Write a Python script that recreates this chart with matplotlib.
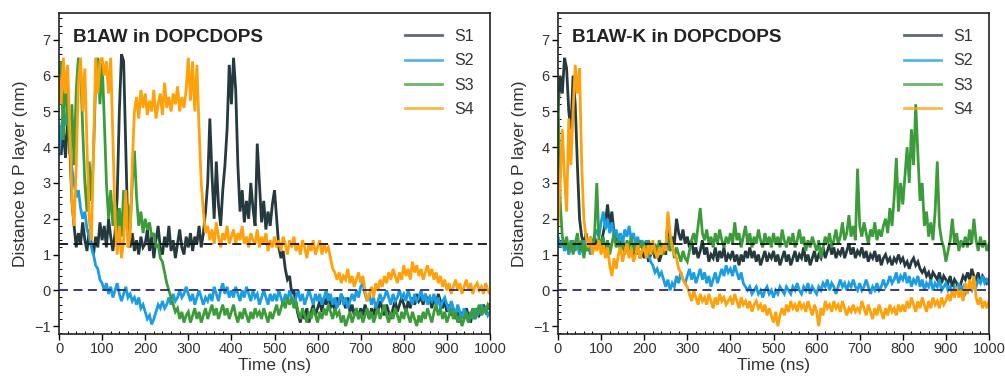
import numpy as np
import matplotlib
matplotlib.use("Agg")
import matplotlib.pyplot as plt
from matplotlib.ticker import MultipleLocator

plt.rcParams['font.family'] = ['Liberation Sans', 'DejaVu Sans']

series_labels = ["S1", "S2", "S3", "S4"]
colors = ["#243a3e", "#1b9de2", "#3c9c3a", "#ffa10a"]
titles = ["B1AW in DOPCDOPS", "B1AW-K in DOPCDOPS"]
x_ticks = [0, 100, 200, 300, 400, 500, 600, 700, 800, 900, 1000]
y_ticks = [-1, 0, 1, 2, 3, 4, 5, 6, 7]
ref_upper = 1.3   # black dashed reference
ref_lower = 0.0   # navy dashed reference

# ---- Left panel: B1AW (values every 5 ns, 0..1000 ns) ----
left_s1 = [
    4.2, 3.8, 4.5, 3.7, 4.8, 4.0, 2.5, 1.8, 1.2, 1.6, 1.3, 1.9, 1.4, 1.1, 1.7, 1.3, 1.0, 1.5, 1.2, 1.9,
    1.4, 1.8, 1.2, 2.0, 1.5, 1.1, 1.6, 2.6, 5.0, 6.6, 6.4, 4.0, 1.5, 1.2, 1.6, 1.1, 1.4, 1.0, 1.5, 1.2,
    1.3, 1.7, 1.1, 1.5, 0.9, 1.4, 1.8, 1.2, 1.0, 1.5, 1.2, 1.8, 1.1, 1.4, 0.9, 1.3, 1.7, 1.2, 1.0, 1.5,
    1.2, 1.6, 1.1, 1.5, 1.3, 1.8, 1.2, 1.6, 2.2, 3.0, 4.8, 3.2, 2.0, 3.6, 2.4, 1.8, 2.8, 3.5, 4.5, 6.3,
    5.2, 6.5, 5.6, 3.5, 2.2, 2.8, 1.9, 2.5, 2.0, 3.0, 2.3, 1.8, 4.1, 3.0, 1.9, 2.5, 1.7, 2.2, 1.8, 2.4,
    2.8, 2.0, 1.2, 0.9, 1.1, 0.6, 0.3, 0.4, -0.1, 0.0, -0.4, -0.7, -0.9, -0.6, -0.8, -0.5, -0.9, -0.6, -0.4, -0.7,
    -0.5, -0.3, -0.6, -0.2, -0.4, -0.1, -0.5, -0.3, -0.6, -0.2, -0.4, -0.1, -0.3, -0.5, -0.2, -0.6, -0.4, -0.7, -0.5, -0.8,
    -0.5, -0.7, -0.4, -0.6, -0.8, -0.5, -0.7, -0.4, -0.6, -0.3, -0.5, -0.7, -0.4, -0.6, -0.8, -0.5, -0.3, -0.6, -0.4, -0.2,
    -0.4, -0.6, -0.3, -0.5, -0.2, -0.4, -0.1, -0.3, -0.2, -0.4, -0.1, -0.3, -0.2, -0.5, -0.2, -0.4, -0.1, -0.3, -0.5, -0.3,
    -0.6, -0.4, -0.7, -0.5, -0.8, -0.6, -0.9, -0.6, -0.8, -0.5, -0.7, -0.9, -0.6, -0.8, -0.5, -0.7, -0.6, -0.4, -0.6, -0.5,
    -0.4,
]
left_s2 = [
    3.8, 4.5, 5.0, 4.6, 5.1, 4.2, 3.4, 3.0, 2.6, 2.8, 2.3, 2.0, 2.2, 1.7, 1.5, 1.2, 1.0, 0.7, 0.6, 0.3,
    0.2, 0.0, 0.2, -0.1, 0.1, -0.2, 0.0, 0.2, -0.1, -0.3, -0.1, 0.1, -0.2, -0.1, -0.3, -0.2, -0.4, -0.2, -0.5, -0.4,
    -0.6, -0.8, -0.7, -0.95, -0.8, -0.6, -0.4, -0.5, -0.3, -0.5, -0.4, -0.2, -0.4, -0.1, -0.3, -0.2, 0.0, -0.2, -0.1, 0.1,
    -0.1, -0.3, -0.1, -0.4, -0.2, 0.0, -0.2, -0.4, -0.2, -0.3, -0.1, -0.3, 0.1, -0.1, -0.3, 0.0, 0.2, -0.1, 0.1, -0.2,
    0.0, -0.2, 0.1, -0.1, -0.3, 0.0, -0.2, 0.1, -0.1, -0.3, 0.0, -0.2, -0.1, -0.4, -0.2, 0.0, -0.2, -0.4, -0.1, -0.3,
    -0.1, -0.3, 0.0, -0.2, -0.4, -0.1, -0.3, 0.0, -0.2, -0.4, -0.2, 0.0, -0.3, -0.1, -0.4, -0.2, 0.0, -0.2, -0.4, -0.1,
    -0.3, -0.1, -0.4, -0.2, 0.0, -0.3, -0.1, -0.4, -0.2, -0.5, -0.3, -0.1, -0.4, -0.2, -0.5, -0.3, -0.1, -0.3, 0.0, -0.2,
    0.1, 0.2, -0.1, -0.3, -0.1, -0.4, -0.2, -0.5, -0.3, -0.1, -0.3, -0.2, 0.0, -0.2, -0.4, -0.1, -0.3, -0.2, 0.0, -0.2,
    -0.1, -0.3, 0.0, -0.2, -0.4, -0.1, -0.3, -0.2, 0.0, -0.3, -0.1, -0.4, -0.2, -0.3, -0.1, -0.4, -0.2, -0.5, -0.3, -0.2,
    -0.4, -0.6, -0.3, -0.5, -0.7, -0.4, -0.6, -0.8, -0.5, -0.7, -0.9, -0.6, -0.8, -0.5, -0.7, -0.6, -0.4, -0.6, -0.5, -0.7,
    -0.6,
]
left_s3 = [
    5.5, 6.4, 4.2, 6.0, 5.0, 3.8, 5.2, 3.5, 5.6, 6.5, 6.2, 4.5, 3.0, 2.2, 3.6, 2.5, 3.8, 5.8, 6.5, 5.2,
    6.4, 4.8, 3.0, 2.0, 2.8, 1.8, 2.5, 1.6, 2.3, 1.5, 2.8, 1.9, 2.4, 1.7, 3.0, 3.9, 2.6, 1.8, 2.2, 1.6,
    2.0, 1.7, 1.9, 1.5, 1.6, 1.2, 1.3, 0.9, 0.8, 0.5, 0.2, 0.0, -0.2, -0.4, -0.6, -0.5, -0.8, -0.6, -0.9, -0.7,
    -0.6, -0.9, -0.7, -0.5, -0.8, -0.6, -0.9, -0.7, -0.5, -0.8, -0.6, -0.4, -0.7, -0.5, -0.8, -0.6, -0.4, -0.7, -0.5, -0.8,
    -0.6, -0.4, -0.7, -0.9, -0.6, -0.8, -0.5, -0.7, -0.9, -0.6, -0.8, -0.5, -0.7, -0.6, -0.8, -0.5, -0.7, -0.9, -0.6, -0.8,
    -0.6, -0.4, -0.7, -0.5, -0.3, -0.5, -0.2, -0.4, -0.2, -0.5, -0.3, -0.6, -0.8, -0.5, -0.7, -0.9, -0.6, -0.8, -0.5, -0.7,
    -0.9, -0.6, -0.8, -0.5, -0.7, -0.4, -0.6, -0.8, -0.5, -0.7, -0.6, -0.9, -0.7, -1.0, -0.8, -0.6, -0.9, -0.7, -0.5, -0.8,
    -0.6, -0.9, -0.7, -0.5, -0.8, -0.6, -0.9, -0.7, -0.5, -0.8, -0.6, -0.4, -0.7, -0.9, -0.6, -0.8, -0.5, -0.7, -0.9, -0.6,
    -0.8, -0.5, -0.7, -0.9, -0.6, -0.8, -1.0, -0.7, -0.9, -0.6, -0.8, -0.5, -0.7, -0.9, -0.6, -0.4, -0.7, -0.5, -0.8, -0.6,
    -0.9, -0.7, -0.5, -0.8, -0.6, -0.9, -0.7, -1.0, -0.8, -0.6, -0.9, -0.7, -0.5, -0.8, -0.6, -0.4, -0.7, -0.5, -0.6, -0.4,
    -0.5,
]
left_s4 = [
    6.0, 5.2, 6.5, 5.5, 6.3, 4.5, 2.5, 1.8, 3.5, 5.8, 6.5, 5.0, 6.2, 4.0, 2.0, 1.4, 3.8, 6.5, 5.5, 6.4,
    6.5, 6.0, 6.4, 5.5, 6.5, 4.2, 2.0, 1.0, 1.8, 0.9, 1.4, 2.8, 1.2, 1.5, 3.5, 5.0, 5.4, 4.8, 5.6, 5.1,
    5.5, 4.9, 5.3, 5.0, 5.6, 4.8, 5.2, 5.5, 4.9, 5.8, 5.1, 5.4, 5.0, 5.5, 5.2, 5.7, 5.0, 5.4, 5.1, 5.6,
    6.5, 5.3, 6.4, 5.0, 6.3, 4.5, 3.0, 2.2, 1.6, 1.8, 1.4, 1.7, 1.3, 1.9, 1.5, 1.2, 1.6, 1.4, 1.8, 1.3,
    1.5, 1.7, 1.3, 1.6, 1.4, 1.8, 1.3, 1.5, 1.2, 1.6, 1.4, 1.3, 1.7, 1.2, 1.5, 1.3, 1.6, 1.1, 1.4, 1.2,
    1.5, 1.2, 1.4, 1.1, 1.5, 1.3, 1.0, 1.4, 1.2, 1.5, 1.1, 1.3, 1.0, 1.4, 1.2, 0.9, 1.3, 1.1, 1.4, 1.0,
    1.2, 1.4, 1.0, 1.3, 1.1, 1.2, 0.9, 0.6, 0.5, 0.3, 0.5, 0.2, 0.4, 0.3, 0.6, 0.2, 0.4, 0.1, 0.3, 0.5,
    0.2, 0.4, 0.0, -0.3, -0.1, 0.1, -0.2, 0.2, 0.0, 0.3, 0.1, 0.4, 0.2, 0.5, 0.3, 0.6, 0.4, 0.2, 0.5, 0.3,
    0.7, 0.4, 0.6, 0.3, 0.8, 0.5, 0.7, 0.4, 0.6, 0.3, 0.5, 0.7, 0.4, 0.6, 0.3, 0.5, 0.2, 0.4, 0.1, 0.3,
    0.0, 0.2, -0.1, 0.1, 0.3, 0.0, 0.2, -0.1, 0.1, 0.3, 0.0, 0.2, -0.1, 0.1, 0.2, 0.0, 0.1, -0.1, 0.2, 0.0,
    -0.1,
]

# ---- Right panel: B1AW-K (values every 5 ns, 0..1000 ns) ----
right_s1 = [
    5.0, 6.0, 5.5, 6.5, 6.2, 5.0, 4.5, 6.0, 5.2, 3.5, 2.0, 1.5, 1.3, 1.6, 1.2, 1.4, 1.1, 1.5, 1.2, 1.4,
    1.3, 1.6, 1.9, 2.4, 1.8, 2.2, 1.6, 1.3, 1.5, 1.2, 1.4, 1.1, 1.3, 1.0, 1.2, 0.9, 1.1, 1.3, 0.9, 1.1,
    0.9, 1.2, 0.8, 1.0, 1.2, 0.9, 1.1, 0.8, 1.0, 1.2, 1.0, 2.0, 1.1, 1.5, 1.3, 2.0, 1.6, 1.4, 1.7, 1.3,
    1.5, 1.2, 1.4, 1.0, 1.2, 0.9, 1.1, 1.4, 1.0, 1.2, 0.8, 1.0, 0.9, 1.2, 0.8, 1.1, 0.9, 1.2, 0.8, 1.0,
    0.9, 1.1, 0.8, 1.0, 0.7, 1.0, 0.8, 1.1, 0.9, 1.2, 0.9, 1.1, 0.8, 1.0, 0.7, 0.9, 1.1, 0.8, 1.0, 0.9,
    1.1, 0.8, 1.0, 0.7, 0.9, 1.1, 0.8, 1.0, 0.7, 0.9, 1.1, 0.8, 1.0, 0.9, 1.2, 0.8, 1.0, 0.7, 0.9, 1.1,
    0.8, 1.0, 0.9, 1.2, 0.9, 1.1, 1.3, 1.0, 1.2, 0.9, 1.1, 1.0, 1.2, 0.9, 1.1, 1.3, 1.0, 1.2, 0.9, 1.1,
    1.0, 1.2, 0.9, 1.1, 0.8, 1.0, 0.9, 1.1, 0.8, 1.0, 0.7, 0.9, 1.0, 0.8, 0.9, 0.7, 0.9, 0.8, 1.0, 0.8,
    0.9, 0.7, 0.8, 0.6, 0.8, 0.9, 0.7, 0.8, 0.6, 0.5, 0.6, 0.4, 0.5, 0.3, 0.5, 0.4, 0.3, 0.5, 0.2, 0.4,
    0.3, 0.2, 0.4, 0.1, 0.3, 0.2, 0.0, 0.2, 0.4, 0.3, 0.5, 0.3, 0.6, 0.4, 0.3, 0.5, 0.2, 0.4, 0.3, 0.2,
    0.3,
]
right_s2 = [
    1.5, 1.2, 1.4, 1.1, 1.3, 1.0, 1.2, 1.4, 1.1, 1.3, 1.0, 1.2, 1.4, 1.1, 1.3, 1.0, 1.2, 1.5, 1.7, 1.5,
    1.9, 2.2, 1.7, 2.0, 1.6, 1.9, 1.5, 1.7, 1.4, 1.6, 1.3, 1.7, 1.5, 1.8, 1.4, 1.6, 1.3, 1.5, 1.2, 1.4,
    1.2, 1.4, 1.0, 0.8, 0.7, 0.5, 0.6, 0.4, 0.5, 0.3, 0.1, 0.3, 0.0, 0.2, 0.1, 0.4, 0.2, 0.5, 0.3, 0.2,
    0.4, 0.6, 0.3, 0.5, 0.2, 0.4, 0.6, 0.3, 0.5, 0.2, 0.4, 0.1, 0.3, 0.5, 0.2, 0.4, 0.6, 0.4, 0.7, 0.5,
    0.6, 0.4, 0.7, 0.5, 0.3, 0.5, 0.2, 0.1, 0.0, 0.1, -0.1, 0.0, 0.1, -0.1, 0.0, -0.2, 0.0, 0.1, -0.1, 0.0,
    -0.2, 0.0, -0.1, 0.1, 0.0, -0.1, 0.1, 0.0, -0.1, 0.1, 0.0, 0.2, 0.0, -0.1, 0.1, 0.0, 0.2, -0.1, 0.1, 0.0,
    -0.1, 0.1, 0.0, 0.2, 0.1, 0.3, 0.0, 0.2, 0.1, -0.1, 0.1, 0.3, 0.1, 0.2, 0.0, 0.2, 0.1, 0.3, 0.1, 0.0,
    0.2, 0.0, 0.1, 0.3, 0.1, -0.1, 0.1, 0.0, 0.2, 0.0, 0.1, 0.3, 0.1, 0.2, 0.4, 0.2, 0.3, 0.5, 0.2, 0.4,
    0.3, 0.5, 0.2, 0.4, 0.1, 0.3, 0.2, 0.4, 0.1, 0.3, 0.0, 0.2, 0.1, 0.3, 0.0, 0.2, 0.1, 0.3, 0.0, 0.1,
    0.2, 0.0, 0.1, -0.1, 0.1, 0.0, 0.2, 0.0, 0.1, -0.1, 0.0, 0.1, 0.0, 0.2, 0.1, 0.3, 0.2, 0.4, 0.2, 0.3,
    0.2,
]
right_s3 = [
    5.5, 2.5, 1.5, 1.2, 1.5, 1.1, 1.4, 1.0, 1.3, 1.6, 1.1, 1.4, 0.9, 1.3, 1.1, 1.5, 1.2, 1.6, 3.0, 1.4,
    1.2, 1.5, 1.1, 1.4, 1.0, 1.3, 1.6, 1.2, 1.4, 1.1, 1.3, 1.0, 1.4, 1.2, 1.5, 1.1, 1.3, 1.0, 1.4, 1.2,
    1.3, 1.1, 1.4, 1.2, 1.0, 1.3, 1.1, 1.4, 1.2, 1.0, 1.3, 1.5, 1.1, 1.3, 0.9, 1.2, 1.0, 0.8, 1.1, 0.9,
    0.8, 1.1, 1.4, 1.6, 1.3, 1.8, 2.3, 1.6, 1.4, 1.7, 1.3, 1.5, 1.2, 1.6, 1.3, 1.7, 1.4, 1.2, 1.5, 1.3,
    1.6, 1.3, 1.9, 1.4, 1.6, 1.2, 1.5, 1.8, 1.3, 1.6, 1.2, 1.5, 1.3, 1.7, 1.4, 1.2, 1.6, 1.3, 1.5, 1.2,
    1.6, 1.3, 1.5, 1.2, 1.7, 1.4, 1.2, 1.5, 1.3, 1.6, 1.2, 1.4, 1.7, 1.3, 1.5, 1.1, 1.4, 1.2, 1.5, 1.3,
    1.1, 1.4, 0.9, 1.2, 1.5, 1.3, 1.6, 1.2, 1.4, 1.7, 1.3, 1.5, 1.9, 1.4, 1.6, 2.1, 1.5, 1.8, 1.4, 3.4,
    1.8, 1.5, 1.9, 1.6, 1.3, 1.7, 1.5, 1.9, 1.4, 1.7, 1.5, 1.8, 2.0, 1.6, 2.3, 1.8, 2.6, 3.7, 2.2, 3.0,
    2.4, 3.2, 4.0, 3.0, 4.5, 3.5, 5.2, 3.8, 2.5, 3.0, 1.8, 2.2, 1.5, 1.9, 1.4, 2.2, 3.6, 1.8, 1.4, 1.2,
    0.8, 1.1, 1.4, 2.0, 1.3, 1.6, 1.1, 1.4, 1.2, 1.5, 1.2, 1.7, 1.3, 2.0, 1.4, 1.1, 1.5, 1.2, 1.4, 1.1,
    1.3,
]
right_s4 = [
    1.8, 3.0, 4.5, 3.2, 2.2, 4.8, 3.5, 5.0, 6.3, 5.5, 6.2, 3.5, 2.0, 1.5, 1.2, 1.5, 1.0, 1.3, 1.1, 1.4,
    1.0, 1.3, 0.9, 1.2, 0.7, 0.4, 0.9, 0.6, 1.0, 1.2, 0.8, 1.1, 1.3, 0.9, 1.2, 0.8, 1.0, 1.3, 0.9, 1.1,
    1.2, 0.9, 1.3, 1.0, 1.4, 1.1, 0.9, 1.2, 1.0, 1.3, 1.1, 2.2, 1.6, 1.2, 1.0, 0.9, 0.6, 0.5, 0.3, 0.2,
    0.1, -0.1, -0.3, 0.0, -0.2, -0.4, -0.1, -0.3, -0.2, -0.4, -0.1, -0.3, -0.5, -0.2, -0.4, -0.1, -0.3, -0.2, -0.4, -0.3,
    -0.2, -0.4, -0.1, -0.3, -0.5, -0.2, -0.4, -0.3, -0.5, -0.3, -0.6, -0.4, -0.3, -0.5, -0.4, -0.6, -0.4, -0.7, -0.5, -0.7,
    -0.9, -0.6, -1.0, -0.7, -0.5, -0.7, -0.4, -0.6, -0.3, -0.5, -0.4, -0.6, -0.3, -0.5, -0.4, -0.6, -0.3, -0.5, -0.7, -0.4,
    -0.6, -1.0, -0.5, -0.7, -0.3, -0.5, -0.4, -0.6, -0.3, -0.5, -0.4, -0.6, -0.3, -0.5, -0.7, -0.5, -0.6, -0.4, -0.6, -0.5,
    -0.6, -0.3, -0.5, -0.7, -0.4, -0.6, -0.8, -0.5, -0.7, -0.4, -0.6, -0.8, -0.5, -0.7, -0.4, -0.6, -0.5, -0.7, -0.4, -0.6,
    -0.4, -0.6, -0.3, -0.5, -0.2, -0.4, -0.6, -0.3, -0.5, -0.2, -0.4, -0.6, -0.3, -0.5, -0.2, -0.4, -0.3, -0.5, -0.2, -0.4,
    -0.3, -0.1, -0.3, 0.0, -0.2, 0.1, -0.2, 0.0, -0.3, 0.2, -0.1, 0.3, 0.0, 0.4, -0.2, -0.4, -0.2, -0.5, -0.3, -0.5,
    -0.3,
]

panels = [
    (titles[0], [left_s1, left_s2, left_s3, left_s4]),
    (titles[1], [right_s1, right_s2, right_s3, right_s4]),
]

W, H = 1005, 378
fig = plt.figure(figsize=(W / 100, H / 100), dpi=100)
ax_rects = [
    [59 / W, 1 - 334 / H, 431 / W, 321 / H],
    [558 / W, 1 - 334 / H, 431 / W, 321 / H],
]

text_color = "#333333"
for rect, (title, series) in zip(ax_rects, panels):
    ax = fig.add_axes(rect)
    for vals, lab, col in zip(series, series_labels, colors):
        t = np.linspace(0, 1000, len(vals))
        ax.plot(t, vals, color=col, lw=2.0, label=lab, solid_joinstyle="miter")
    ax.axhline(ref_upper, color="#111111", lw=1.3, ls=(0, (5, 3)), zorder=5)
    ax.axhline(ref_lower, color="#2b2a7a", lw=1.3, ls=(0, (5, 3)), zorder=5)
    ax.set_xlim(0, 1000)
    ax.set_ylim(-1.22, 7.75)
    ax.set_xticks(x_ticks)
    ax.set_yticks(y_ticks)
    ax.set_yticklabels(["\u22121" if v == -1 else str(v) for v in y_ticks])
    ax.xaxis.set_minor_locator(MultipleLocator(20))
    ax.yaxis.set_minor_locator(MultipleLocator(0.2))
    ax.tick_params(which="major", direction="out", length=4, width=1.0,
                   labelsize=10.5, labelcolor=text_color, pad=2)
    ax.tick_params(which="minor", direction="in", length=2, width=0.7)
    for sp in ax.spines.values():
        sp.set_linewidth(1.2)
        sp.set_color("#222222")
    ax.set_xlabel("Time (ns)", fontsize=12.5, color=text_color, labelpad=1)
    ax.set_ylabel("Distance to P layer (nm)", fontsize=12.5, color=text_color, labelpad=4)
    ax.text(0.032, 0.925, title, transform=ax.transAxes, ha="left", va="center",
            fontsize=13.6, fontweight="bold", color="#222222")
    leg = ax.legend(loc="upper right", frameon=False, fontsize=11.5,
                    handlelength=2.3, labelspacing=0.58, borderaxespad=0.3,
                    handletextpad=0.8, bbox_to_anchor=(0.99, 0.985))
    for line in leg.get_lines():
        line.set_linewidth(2.0)
        line.set_alpha(0.75)
    for txt in leg.get_texts():
        txt.set_color(text_color)

fig.savefig("out.png", dpi=100)
